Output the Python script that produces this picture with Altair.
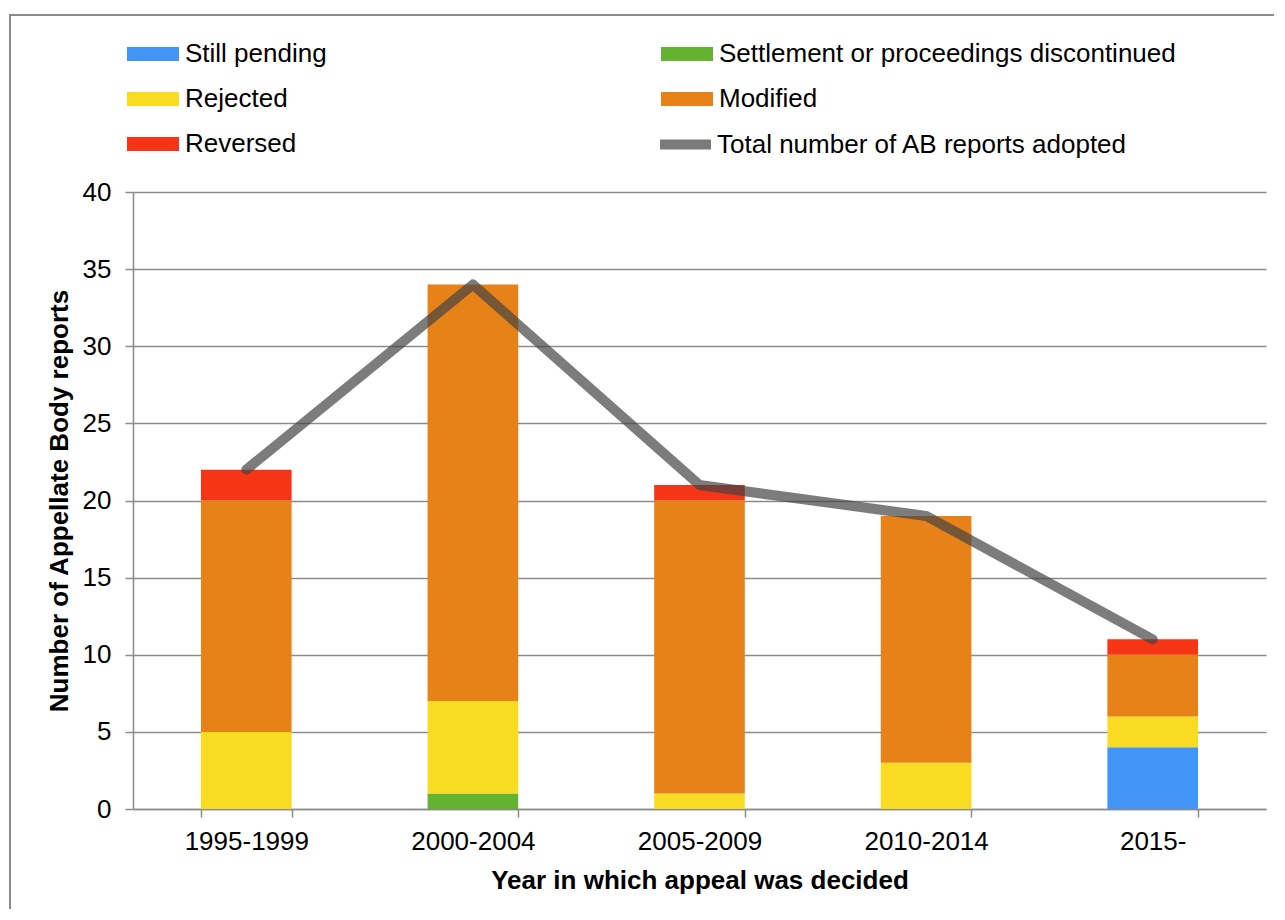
import altair as alt
import pandas as pd

# ---- data ----
periods = ["1995-1999", "2000-2004", "2005-2009", "2010-2014", "2015-"]
outcomes = ["Still pending", "Settlement or proceedings discontinued",
            "Rejected", "Modified", "Reversed"]
still_pending = [0, 0, 0, 0, 4]
settlement = [0, 1, 0, 0, 0]
rejected = [5, 6, 1, 3, 2]
modified = [15, 27, 19, 16, 4]
reversed_ = [2, 0, 1, 0, 1]
total_adopted = [22, 34, 21, 19, 11]
line_label = "Total number of AB reports adopted"
colors = ["#4394f7", "#63b331", "#f9dc22", "#e78218", "#f63516"]
y_ticks = [0, 5, 10, 15, 20, 25, 30, 35, 40]

series = [still_pending, settlement, rejected, modified, reversed_]
rows = []
for k, (name, vals) in enumerate(zip(outcomes, series)):
    for p, v in zip(periods, vals):
        if v > 0:
            rows.append({"period": p, "outcome": name, "count": v, "idx": k})
df_bars = pd.DataFrame(rows)
df_line = pd.DataFrame({"period": periods, "total": total_adopted,
                        "series": [line_label] * len(periods)})

W, H = 1133, 617
FONT = "Liberation Sans"
GRAY = "#8c8c8c"

x_enc = alt.X("period:N", sort=periods,
              scale=alt.Scale(domain=periods, paddingInner=0.6, paddingOuter=0.3),
              axis=alt.Axis(title="Year in which appeal was decided", labelAngle=0,
                            tickBand="extent", grid=False, labelPadding=11,
                            titlePadding=13))

y_axis = alt.Axis(values=y_ticks, title="Number of Appellate Body reports",
                  grid=True, labelPadding=14, titlePadding=10)

border = alt.Chart(alt.Data(values=[{"a": 1}])).mark_rect(
    fillOpacity=0, stroke=GRAY, strokeWidth=2
).encode(x=alt.value(-123), x2=alt.value(W + 60),
         y=alt.value(-177), y2=alt.value(H + 200))

bars = alt.Chart(df_bars).mark_bar().encode(
    x=x_enc,
    y=alt.Y("count:Q", stack="zero", scale=alt.Scale(domain=[0, 40]), axis=y_axis),
    color=alt.Color("outcome:N",
                    scale=alt.Scale(domain=outcomes, range=colors),
                    legend=alt.Legend(title=None, orient="none", legendX=-6, legendY=-164,
                                      direction="horizontal",
                                      columns=2, columnPadding=334, rowPadding=6,
                                      gridAlign="each",
                                      symbolType="M-1,-0.27H1V0.27H-1Z",
                                      symbolSize=2704, symbolStrokeWidth=0,
                                      labelOffset=6, padding=0)),
    order=alt.Order("idx:Q", sort="ascending"),
)

line = alt.Chart(df_line).mark_line(
    strokeWidth=10, strokeCap="round", strokeJoin="round", opacity=0.7
).encode(
    x=alt.X("period:N", sort=periods),
    y=alt.Y("total:Q"),
    color=alt.Color("series:N",
                    scale=alt.Scale(domain=[line_label], range=["#444444"]),
                    legend=alt.Legend(title=None, orient="none", legendX=522, legendY=-78,
                                      symbolType="stroke", symbolSize=2601,
                                      symbolStrokeWidth=10, labelOffset=1, padding=0)),
)

chart = alt.layer(border, bars, line).resolve_scale(color="independent").properties(
    width=W, height=H,
    autosize=alt.AutoSizeParams(type="none"),
    padding={"left": 125, "top": 184, "right": 8, "bottom": 100},
).configure(font=FONT).configure_view(strokeWidth=0).configure_axis(
    labelFont=FONT, labelFontSize=26, labelColor="black",
    titleFont=FONT, titleFontSize=26, titleFontWeight="bold", titleColor="black",
    domainColor=GRAY, domainWidth=1.5, tickColor=GRAY, tickWidth=1.5, tickSize=8,
    gridColor=GRAY, gridWidth=1.5,
).configure_legend(
    labelFont=FONT, labelFontSize=26, labelColor="black", labelLimit=0,
)

chart.save("out.html", embed_options={"renderer": "svg", "actions": False})
